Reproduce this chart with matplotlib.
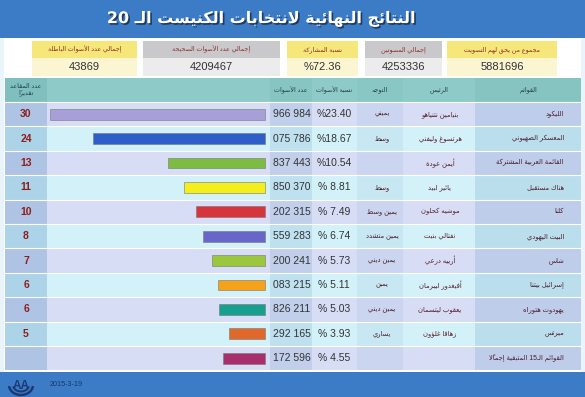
import matplotlib
matplotlib.use("Agg")
import matplotlib.pyplot as plt
import matplotlib.patches as mpatches
import matplotlib.patheffects as pe

plt.rcParams['font.family'] = ['Liberation Sans', 'DejaVu Sans']

# ---------------- data ----------------
title = "النتائج النهائية لانتخابات الكنيست الـ 20"

summary_labels = ["مجموع من يحق لهم التصويت", "إجمالي المصوتين", "نسبة المشاركة",
                  "إجمالي عدد الأصوات الصحيحة", "إجمالي عدد الأصوات الباطلة"]
summary_values = ["5881696", "4253336", "%72.36", "4209467", "43869"]

col_headers = ["القوائم", "الرئيس", "التوجه", "نسبة الأصوات", "عدد الأصوات", "", "عدد المقاعد\nتقديراً"]

lists = ["الليكود", "المعسكر الصهيوني", "القائمة العربية المشتركة", "هناك مستقبل", "كلنا",
         "البيت اليهودي", "شاس", "إسرائيل بيتنا", "يهودوت هتوراه", "ميرتس",
         "القوائم الـ15 المتبقية إجمالاً"]
leaders = ["بنيامين نتنياهو", "هرتسوغ وليفني", "أيمن عودة", "يائير لبيد", "موشيه كحلون",
           "نفتالي بنيت", "أرييه درعي", "أفيغدور ليبرمان", "يعقوب ليتسمان", "زهافا غلؤون", ""]
leanings = ["يميني", "وسط", "", "وسط", "يمين وسط", "يمين متشدد", "يمين ديني", "يمين",
            "يمين ديني", "يساري", ""]
vote_pct = [23.40, 18.67, 10.54, 8.81, 7.49, 6.74, 5.73, 5.11, 5.03, 3.93, 4.55]
vote_labels = ["966 984", "075 786", "837 443", "850 370", "202 315", "559 283",
               "200 241", "083 215", "826 211", "292 165", "172 596"]
seats = [30, 24, 13, 11, 10, 8, 7, 6, 6, 5, None]
bar_colors = ["#a69fd8", "#2e5fc9", "#7dbc43", "#f4ee1c", "#d6353b", "#6866c9",
              "#9bc73d", "#f6a11a", "#179f8f", "#e0682b", "#a72f6b"]
date_text = "2015-3-19"

# ---------------- minimal arabic shaping ----------------
FORMS = {
    'ء': (0xFE80, 1), 'آ': (0xFE81, 2), 'أ': (0xFE83, 2), 'ؤ': (0xFE85, 2), 'إ': (0xFE87, 2),
    'ئ': (0xFE89, 4), 'ا': (0xFE8D, 2), 'ب': (0xFE8F, 4), 'ة': (0xFE93, 2), 'ت': (0xFE95, 4),
    'ث': (0xFE99, 4), 'ج': (0xFE9D, 4), 'ح': (0xFEA1, 4), 'خ': (0xFEA5, 4), 'د': (0xFEA9, 2),
    'ذ': (0xFEAB, 2), 'ر': (0xFEAD, 2), 'ز': (0xFEAF, 2), 'س': (0xFEB1, 4), 'ش': (0xFEB5, 4),
    'ص': (0xFEB9, 4), 'ض': (0xFEBD, 4), 'ط': (0xFEC1, 4), 'ظ': (0xFEC5, 4), 'ع': (0xFEC9, 4),
    'غ': (0xFECD, 4), 'ف': (0xFED1, 4), 'ق': (0xFED5, 4), 'ك': (0xFED9, 4), 'ل': (0xFEDD, 4),
    'م': (0xFEE1, 4), 'ن': (0xFEE5, 4), 'ه': (0xFEE9, 4), 'و': (0xFEED, 2), 'ى': (0xFEEF, 2),
    'ي': (0xFEF1, 4),
}
LAM_ALEF = {'ا': 0xFEFB, 'أ': 0xFEF7, 'إ': 0xFEF9, 'آ': 0xFEF5}
MARKS = set(chr(c) for c in range(0x064B, 0x0653))


def can_next(c):
    return c == 'ـ' or (c in FORMS and FORMS[c][1] == 4)


def can_prev(c):
    return c == 'ـ' or c.startswith('LA') or (c in FORMS and FORMS[c][1] >= 2)


def shape_line(text):
    items = []
    for ch in text:
        if ch in MARKS and items:
            items[-1][1] += ch
        else:
            items.append([ch, ''])
    merged = []
    i = 0
    while i < len(items):
        c, m = items[i]
        if c == 'ل' and i + 1 < len(items) and items[i + 1][0] in LAM_ALEF:
            merged.append(['LA' + items[i + 1][0], m + items[i + 1][1]])
            i += 2
        else:
            merged.append([c, m])
            i += 1
    glyphs = []
    for k, (c, m) in enumerate(merged):
        prev = merged[k - 1][0] if k > 0 else ''
        nxt = merged[k + 1][0] if k + 1 < len(merged) else ''
        jp = can_prev(c) and can_next(prev)
        jn = can_next(c) and can_prev(nxt)
        if c.startswith('LA'):
            g = chr(LAM_ALEF[c[2]] + (1 if jp else 0))
        elif c in FORMS:
            base, nf = FORMS[c]
            if nf == 4:
                off = 3 if (jp and jn) else 1 if jp else 2 if jn else 0
            elif nf == 2:
                off = 1 if jp else 0
            else:
                off = 0
            g = chr(base + off)
        else:
            g = c
        glyphs.append(g + m)
    vis = glyphs[::-1]
    out, run = [], []
    for g in vis:
        if g in '0123456789.':
            run.append(g)
        else:
            out.extend(run[::-1])
            run = []
            out.append(g)
    out.extend(run[::-1])
    return ''.join(out)


def ar(text):
    return '\n'.join(shape_line(t) for t in text.split('\n'))


# ---------------- figure ----------------
W, H = 585, 397
fig = plt.figure(figsize=(W / 100, H / 100), dpi=100)
bg = fig.add_axes([0, 0, 1, 1])
bg.set_xlim(0, W)
bg.set_ylim(H, 0)
bg.axis('off')


def rect(x0, y0, x1, y1, color, **kw):
    bg.add_patch(mpatches.Rectangle((x0, y0), x1 - x0, y1 - y0, facecolor=color,
                                    edgecolor='none', **kw))


# page background
rect(0, 0, W, H, '#eaf5fb')
rect(4, 38, W - 4, 372, '#ffffff')
# title band
rect(0, 0, W, 38, '#3c7cc6')
bg.text(262, 19, ar(title), color='white', fontsize=11.5, fontweight='bold',
        family=['DejaVu Sans'], ha='center', va='center',
        path_effects=[pe.withSimplePatchShadow(offset=(1.2, -1.2), shadow_rgbFace='#1a2a40', alpha=0.8)])

# summary boxes
box_x = [(447, 557), (365, 442), (287, 358), (143, 280), (32, 137)]
head_cols = ['#f6e77a', '#c9c9cc', '#f6e77a', '#c9c9cc', '#f6e77a']
val_cols = ['#fbf5d2', '#ececec', '#fbf5d2', '#ececec', '#fbf5d2']
for (x0, x1), lab, val, hc, vc in zip(box_x, summary_labels, summary_values, head_cols, val_cols):
    rect(x0, 41, x1, 58, hc)
    rect(x0, 58, x1, 76, vc)
    bg.text((x0 + x1) / 2, 49.5, ar(lab), fontsize=4.6, color='#8a2a2a', ha='center', va='center')
    bg.text((x0 + x1) / 2, 67, val, fontsize=8, color='#333333', ha='center', va='center')

# table
col_x = [(475, 581), (403, 475), (357, 403), (312, 357), (270, 312), (47, 270), (5, 47)]
col_shade = [0.16, 0.0, 0.08, 0.0, 0.14, 0.0, 0.26]
top, row_h = 102, 24.4
n = len(lists)
bottom = top + n * row_h

rect(5, 78, 581, top, '#8ecac7')
for (x0, x1), h, s in zip(col_x, col_headers, col_shade):
    rect(x0, 78, x1, top, '#2f8f8f', alpha=s * 0.6)
    if h:
        bg.text((x0 + x1) / 2, (78 + top) / 2, ar(h), fontsize=4.6, color='#1f3b4b',
                ha='center', va='center', linespacing=1.1)

for i in range(n):
    y0 = top + i * row_h
    rect(5, y0, 581, y0 + row_h, '#d7ddf5' if i % 2 == 0 else '#d3f1f9')
    for (x0, x1), s in zip(col_x, col_shade):
        if s:
            rect(x0, y0, x1, y0 + row_h, '#3f7fb4', alpha=s)
    bg.plot([5, 581], [y0, y0], color='white', lw=0.8)

for i in range(n):
    yc = top + (i + 0.5) * row_h
    bg.text(564, yc, ar(lists[i]), fontsize=4.9, color='#4a1f2c', ha='right', va='center')
    if leaders[i]:
        bg.text(440, yc, ar(leaders[i]), fontsize=4.9, color='#5a1f2c', ha='center', va='center')
    if leanings[i]:
        bg.text(382, yc, ar(leanings[i]), fontsize=4.9, color='#4a1f2c', ha='center', va='center')
    pct = vote_pct[i]
    pct_s = f"%{pct:.2f}" if pct >= 10 else f"% {pct:.2f}"
    bg.text(334, yc, pct_s, fontsize=7.5, color='#333333', ha='center', va='center')
    bg.text(292, yc, vote_labels[i], fontsize=7.5, color='#333333', ha='center', va='center')
    if seats[i] is not None:
        bg.text(26, yc, str(seats[i]), fontsize=7.5, fontweight='bold', color='#8b1e1e',
                ha='center', va='center')

# bars
bx = fig.add_axes([47 / W, 1 - bottom / H, 223 / W, (bottom - top) / H])
bx.patch.set_alpha(0)
bx.barh(range(n), vote_pct, height=0.45, color=bar_colors, edgecolor='#777777', linewidth=0.4)
bx.set_xlim(23.73, -0.544)
bx.set_ylim(n - 0.5, -0.5)
bx.axis('off')

# bottom band
rect(0, 372, W, H, '#3c7cc6')
bg.text(50, 385, date_text, fontsize=5.2, color='#1c3566', ha='left', va='center')
bg.text(21, 386, 'AA', fontsize=8.5, fontweight='bold', color='#1c3a72', ha='center', va='center')
bg.add_patch(mpatches.Arc((21, 385), 24, 20, theta1=5, theta2=175, color='#1c3a72', lw=1.8))
bg.add_patch(mpatches.Arc((21, 385), 16, 13, theta1=10, theta2=170, color='#1c3a72', lw=1.4))

fig.savefig('out.png', dpi=100)
